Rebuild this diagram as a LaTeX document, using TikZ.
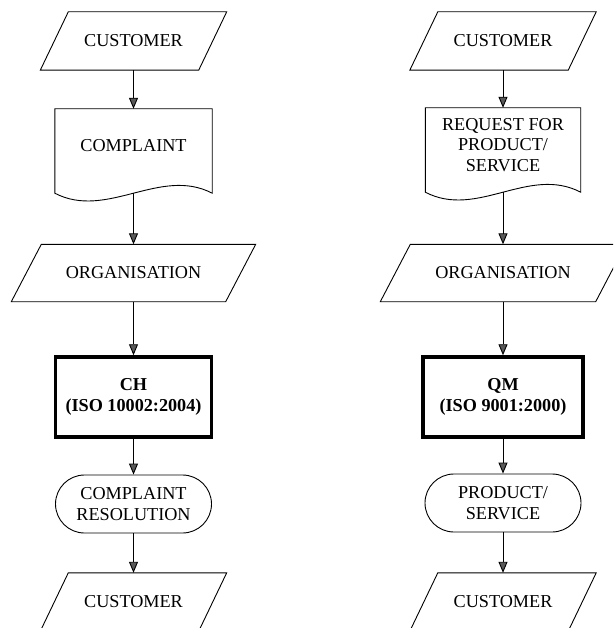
\documentclass[tikz,border=0pt]{standalone}
\usepackage{fontspec}
\setmainfont{Liberation Serif}
\usetikzlibrary{calc,arrows.meta}

% parallelogram (input/output) outline around a rectangular node
\newcommand\drawIOShape[2]{%
  \draw[shapeline] ($(#1.south west)+(-#2,0)$) -- ($(#1.north west)+(#2,0)$)
    -- ($(#1.north east)+(#2,0)$) -- ($(#1.south east)+(-#2,0)$) -- cycle;}
% document outline with a wavy lower edge
\newcommand\drawDocShape[1]{%
  \draw[shapeline] (#1.north west) -- (#1.north east) -- ($(#1.south east)+(0,10)$)
    .. controls ($(#1.south east)+(-52,-17)$) and ($(#1.south west)+(52,37)$) ..
    ($(#1.south west)+(0,10)$) -- cycle;}

\begin{document}
\begin{tikzpicture}[x=1pt,y=-1pt,
  every node/.style={font=\fontsize{18.2}{20.8}\selectfont, align=center, inner sep=0pt},
  shapeline/.style={line width=0.9pt, black},
  iobox/.style={rectangle, minimum height=58},
  docbox/.style={rectangle, minimum height=74},
  procbox/.style={rectangle, draw, line width=3.5pt, minimum height=80},
  termbox/.style={rectangle, draw, line width=0.9pt, rounded corners=29pt, minimum height=58},
  arr/.style={line width=0.9pt, -{Triangle[width=9pt,length=11pt,fill=black!65]}}]
\useasboundingbox (0,0) rectangle (613,628);
\clip (0,0) rectangle (613,628);

% ---- left column: complaints handling ----
\node[iobox, minimum width=158] (custA) at (133.5,41) {CUSTOMER};
\drawIOShape{custA}{14}
\node[docbox, minimum width=157] (compl) at (133.5,146) {COMPLAINT};
\drawDocShape{compl}
\coordinate (complOut) at ($(compl.south)+(0,10)$);
\node[iobox, minimum width=214, minimum height=57] (orgA) at (133.5,273) {ORGANISATION};
\drawIOShape{orgA}{15}
\node[procbox, minimum width=156] (ch) at (133.5,397) {\textbf{CH}\\\textbf{(ISO 10002:2004)}};
\node[termbox, minimum width=156] (resol) at (133.5,504) {COMPLAINT\\RESOLUTION};
\node[iobox, minimum width=158] (custB) at (133.5,602) {CUSTOMER};
\drawIOShape{custB}{14}

\draw[arr] (custA) -- (compl);
\draw[arr] (complOut) -- (orgA);
\draw[arr] (orgA) -- (ch);
\draw[arr] (ch) -- (resol);
\draw[arr] (resol) -- (custB);

% ---- right column: quality management ----
\node[iobox, minimum width=158] (custC) at (503,41) {CUSTOMER};
\drawIOShape{custC}{14}
\node[docbox, minimum width=155] (req) at (503,145) {REQUEST FOR\\PRODUCT/\\SERVICE};
\drawDocShape{req}
\coordinate (reqOut) at ($(req.south)+(0,10)$);
\node[iobox, minimum width=215, minimum height=57] (orgB) at (503,273) {ORGANISATION};
\drawIOShape{orgB}{15}
\node[procbox, minimum width=160] (qm) at (503,397) {\textbf{QM}\\\textbf{(ISO 9001:2000)}};
\node[termbox, minimum width=156] (prod) at (503,503) {PRODUCT/\\SERVICE};
\node[iobox, minimum width=158] (custD) at (503,602) {CUSTOMER};
\drawIOShape{custD}{14}

\draw[arr] (custC) -- (req);
\draw[arr] (reqOut) -- (orgB);
\draw[arr] (orgB) -- (qm);
\draw[arr] (qm) -- (prod);
\draw[arr] (prod) -- (custD);
\end{tikzpicture}
\end{document}
